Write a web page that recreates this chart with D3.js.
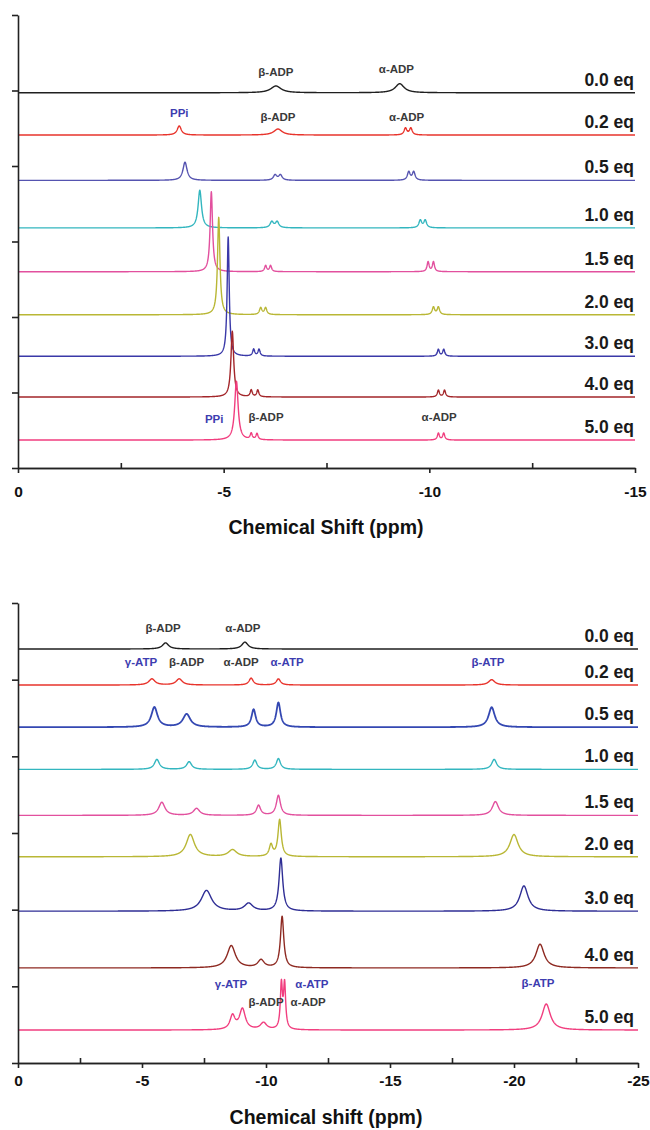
<!DOCTYPE html>
<html>
<head>
<meta charset="utf-8">
<script src="https://cdn.jsdelivr.net/npm/d3@7"></script>
<style>
  body { margin: 0; background: #fff; }
  text { font-family: "Liberation Sans", Arial, sans-serif; }
</style>
</head>
<body>
<svg id="chart" width="650" height="1130"></svg>
<script>
// titration steps (same for both panels)
const eqs = ["0.0 eq", "0.2 eq", "0.5 eq", "1.0 eq", "1.5 eq", "2.0 eq", "3.0 eq", "4.0 eq", "5.0 eq"];

// ---- top panel: PPi + ADP, peaks as [ppm, height, half width]
const topOffsets = [497, 441, 381, 318, 260, 203, 148, 94, 37];
const topPeaks = [
  [[-6.27, 9, 0.15], [-9.28, 12, 0.13]],
  [[-3.92, 12, 0.06], [-6.32, 8, 0.12], [-9.42, 9, 0.04], [-9.55, 9, 0.04]],
  [[-4.06, 24, 0.06], [-6.25, 7, 0.05], [-6.38, 7, 0.05], [-9.5, 11, 0.04], [-9.62, 11, 0.04]],
  [[-4.42, 50, 0.05], [-6.17, 8, 0.05], [-6.3, 8, 0.05], [-9.78, 10, 0.04], [-9.9, 10, 0.04]],
  [[-4.7, 106, 0.035], [-6.02, 8, 0.03], [-6.14, 8, 0.03], [-9.97, 13, 0.03], [-10.1, 13, 0.03]],
  [[-4.88, 129, 0.035], [-5.9, 9, 0.035], [-6.02, 9, 0.035], [-10.1, 10, 0.035], [-10.22, 10, 0.035]],
  [[-5.11, 158, 0.03], [-5.73, 9, 0.03], [-5.86, 9, 0.03], [-10.22, 9, 0.03], [-10.35, 9, 0.03]],
  [[-5.21, 87, 0.04], [-5.67, 9, 0.03], [-5.83, 9, 0.03], [-10.22, 9, 0.03], [-10.37, 9, 0.03]],
  [[-5.31, 78, 0.05], [-5.67, 8, 0.03], [-5.81, 8, 0.03], [-10.22, 9, 0.03], [-10.35, 9, 0.03]]
];
const topNotes = [
  ["β-ADP", -6.27, 525], ["α-ADP", -9.2, 528],
  ["PPi", -3.92, 470], ["β-ADP", -6.32, 465], ["α-ADP", -9.45, 465],
  ["PPi", -4.77, 65], ["β-ADP", -6.03, 67], ["α-ADP", -10.24, 67]
];
const topTicks = [0, -5, -10, -15];

// ---- bottom panel: ATP + ADP
const botOffsets = [540, 493, 438, 383, 323, 269, 198, 124, 43];
const botPeaks = [
  [[-5.95, 8, 0.15], [-9.15, 9, 0.15]],
  [[-5.4, 8, 0.15], [-6.5, 8, 0.15], [-9.4, 9, 0.1], [-10.5, 8, 0.1], [-19.1, 7, 0.15]],
  [[-5.5, 26, 0.15], [-6.8, 17, 0.18], [-9.5, 23, 0.1], [-10.5, 32, 0.1], [-19.1, 26, 0.15]],
  [[-5.6, 13, 0.12], [-6.9, 10, 0.12], [-9.55, 12, 0.1], [-10.5, 14, 0.1], [-19.2, 13, 0.12]],
  [[-5.8, 17, 0.15], [-7.2, 9, 0.15], [-9.7, 13, 0.1], [-10.5, 26, 0.1], [-19.25, 18, 0.15]],
  [[-6.95, 29, 0.2], [-8.65, 9, 0.2], [-10.2, 15, 0.08], [-10.55, 48, 0.08], [-20.0, 29, 0.2]],
  [[-7.6, 27, 0.25], [-9.3, 10, 0.2], [-10.6, 69, 0.09], [-20.4, 33, 0.2]],
  [[-8.6, 29, 0.2], [-9.8, 10, 0.15], [-10.65, 67, 0.08], [-21.05, 31, 0.2]],
  [[-8.65, 18, 0.12], [-9.05, 27, 0.14], [-9.9, 9, 0.15], [-10.62, 58, 0.05], [-10.75, 58, 0.05], [-21.3, 34, 0.2]]
];
const botNotes = [
  ["β-ADP", -5.85, 567], ["α-ADP", -9.07, 568],
  ["γ-ATP", -4.96, 523], ["β-ADP", -6.8, 523], ["α-ADP", -9.0, 523], ["α-ATP", -10.85, 523], ["β-ATP", -18.95, 523],
  ["γ-ATP", -8.59, 103], ["β-ADP", -10.0, 80], ["α-ATP", -11.85, 103], ["α-ADP", -11.7, 80], ["β-ATP", -20.97, 104]
];
const botTicks = [0, -5, -10, -15, -20, -25];

const topColors = ["#1f1f1f", "#e8342c", "#5553b0", "#33b6bf", "#e2509e", "#b9b735", "#3a39a8", "#a3262a", "#f13e7f"];
const botColors = ["#1f1f1f", "#e8342c", "#3448b2", "#33b6bf", "#e2509e", "#b9b735", "#2f2e95", "#8e2a22", "#f13e7f"];

const svg = d3.select("#chart");

function panel(o) {
  const x = d3.scaleLinear().domain([0, o.xEnd]).range([18, o.right]);
  const y = d3.scaleLinear().domain([0, 600]).range([o.bottom, o.top]);
  const g = svg.append("g");

  // spectra: sum of lorentzian lines
  const grid = d3.range(0, o.xEnd - 0.0001, -o.step);
  const line = d3.line().x(d => x(d[0])).y(d => y(d[1]));
  o.peaks.forEach((pk, i) => {
    const pts = grid.map(p => [p, o.offsets[i] + d3.sum(pk, q => q[1] * q[2] * q[2] / ((p - q[0]) ** 2 + q[2] * q[2]))]);
    g.append("path")
      .attr("d", line(pts))
      .attr("fill", "none")
      .attr("stroke", o.colors[i])
      .attr("stroke-width", i === 2 && o.thick ? 1.8 : 1.4)
      .attr("stroke-linejoin", "round");
    g.append("text")
      .attr("x", 634)
      .attr("y", y(o.offsets[i]) - 7)
      .attr("text-anchor", "end")
      .attr("font-size", 17.5)
      .attr("font-weight", "bold")
      .attr("fill", "#1a1a1a")
      .text(eqs[i]);
  });

  // peak annotations
  g.selectAll(".note").data(o.notes).join("text")
    .attr("x", d => x(d[1]))
    .attr("y", d => y(d[2]))
    .attr("dy", "0.35em")
    .attr("text-anchor", "middle")
    .attr("font-size", 11.5)
    .attr("font-weight", "bold")
    .attr("fill", d => d[0].includes("ADP") ? "#3a3a3a" : "#3d3db0")
    .text(d => d[0]);

  // axes
  const yAxis = g.append("g")
    .attr("transform", "translate(18,0)")
    .call(d3.axisLeft(y).tickValues(d3.range(0, 601, 100)).tickSize(6).tickSizeOuter(0).tickFormat(""));
  const minor = g.append("g")
    .attr("transform", `translate(0,${o.bottom})`)
    .call(d3.axisBottom(x).tickValues(o.ticks.slice(1).map(t => t + 2.5)).tickSize(-5).tickSizeOuter(0).tickFormat(""));
  const xAxis = g.append("g")
    .attr("transform", `translate(0,${o.bottom})`)
    .call(d3.axisBottom(x).tickValues(o.ticks).tickSize(5).tickSizeOuter(0).tickFormat(d => String(d)));
  [yAxis, minor, xAxis].forEach(a => {
    a.selectAll("path, line").attr("stroke", "#222").attr("stroke-width", 1.6);
  });
  xAxis.selectAll("text")
    .attr("y", o.labelY)
    .attr("font-size", 15.5)
    .attr("font-weight", "bold")
    .attr("font-family", "'Liberation Sans', Arial, sans-serif")
    .attr("fill", "#111");

  g.append("text")
    .attr("x", 326)
    .attr("y", o.titleY)
    .attr("text-anchor", "middle")
    .attr("font-size", 19.5)
    .attr("font-weight", "bold")
    .attr("fill", "#111")
    .text(o.title);
}

panel({ top: 15, bottom: 468, right: 635, xEnd: -15, step: 0.005, offsets: topOffsets, peaks: topPeaks,
        notes: topNotes, colors: topColors, ticks: topTicks, labelY: 18, titleY: 534, title: "Chemical Shift (ppm)" });
panel({ top: 603, bottom: 1063, right: 638, xEnd: -25, step: 0.008, offsets: botOffsets, peaks: botPeaks,
        notes: botNotes, colors: botColors, ticks: botTicks, labelY: 12, titleY: 1124, title: "Chemical shift (ppm)", thick: true });
</script>
</body>
</html>
